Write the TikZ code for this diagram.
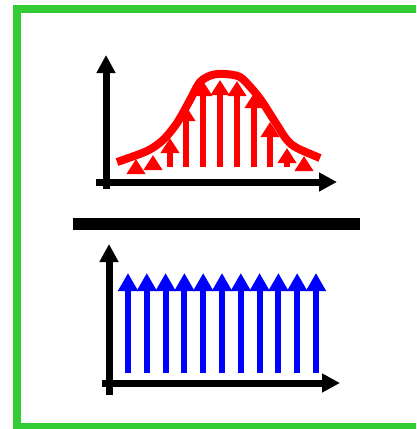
\documentclass[tikz,border=0pt]{standalone}
\usetikzlibrary{arrows.meta}
\definecolor{framegreen}{RGB}{52,204,52}
\newcommand{\plotaxes}[6]{%
  \draw[axis] (#3,#1) -- (#4,#1);
  \draw[axis] (#2,#5) -- (#2,#6);
}

\begin{document}
\begin{tikzpicture}[x=1pt,y=-1pt,
  axis/.style={line width=7,-{Triangle[width=18,length=18]}},
  load/.style={red,line width=6,-{Triangle[width=18,length=15]}},
  flow/.style={blue,line width=6,-{Triangle[width=19,length=18]}}]
  \clip (0,0) rectangle (416,429);
  \draw[framegreen,line width=8] (17,9) rectangle (430,427);
  \plotaxes{182}{106}{96}{337}{189}{55}
  \draw[red,line width=8] plot[smooth,tension=0.5] coordinates {
    (117,162) (147,151) (163,140) (177,123) (190,100) (200,82) (212,75)
    (225,74) (240,77) (253,90) (263,103) (277,125) (287,140) (297,148) (320,158)};
  \foreach \x/\t in {136/159,153/155,170/138,186/106,203/81,220/80,237/81,254/93,270/122,287/148,304/156} {
    \draw[load] (\x,167) -- (\x,\t);
  }
  \draw[line width=12] (73,224) -- (360,224);
  \plotaxes{383}{109}{102}{340}{395}{244}
  \foreach \i in {0,...,10} {
    \draw[flow] (128+18.8*\i,373) -- (128+18.8*\i,273);
  }
\end{tikzpicture}
\end{document}
